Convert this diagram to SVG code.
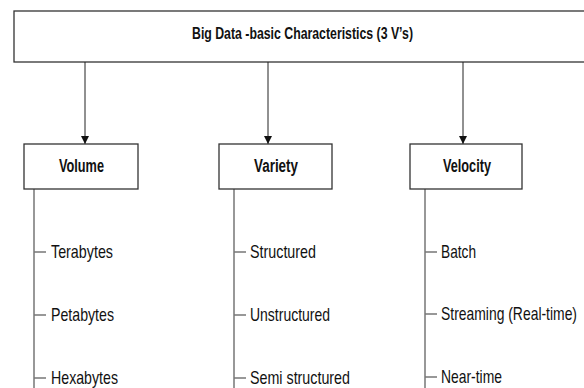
<svg xmlns="http://www.w3.org/2000/svg" width="584" height="388" viewBox="0 0 584 388">
<style>
.box{fill:#fff;stroke:#333;stroke-width:1.3}
.lbl{font-family:"Liberation Sans",Arial,sans-serif;font-weight:bold;font-size:18px;fill:#111}
.ttl{font-size:17px}
.item{font-family:"Liberation Sans",Arial,sans-serif;font-size:19px;fill:#111}
.arrow{stroke:#222;stroke-width:1;fill:none}
.tree{stroke:#777;stroke-width:1.5;fill:none}
</style>
<defs>
<marker id="ah" viewBox="0 0 8 10" refX="8" refY="5" markerWidth="8" markerHeight="10" markerUnits="userSpaceOnUse" orient="auto">
<path d="M0,1 L8,5 L0,9 Z" fill="#111"/>
</marker>
</defs>
<rect width="584" height="388" fill="#fff"/>
<g id="root">
<rect class="box" x="14" y="11" width="590" height="51"/>
<text class="lbl ttl" x="192" y="39" textLength="221" lengthAdjust="spacingAndGlyphs">Big Data -basic Characteristics (3 V’s)</text>
</g>
<g id="connectors">
<line class="arrow" x1="85" y1="62" x2="85" y2="144" marker-end="url(#ah)"/>
<line class="arrow" x1="268" y1="62" x2="268" y2="144" marker-end="url(#ah)"/>
<line class="arrow" x1="463" y1="62" x2="463" y2="144" marker-end="url(#ah)"/>
<path class="tree" d="M34,189 V388 M34,252 H46 M34,315 H46 M34,378 H46"/>
<path class="tree" d="M234,189 V388 M234,252 H246 M234,315 H246 M234,378 H246"/>
<path class="tree" d="M425,189 V388 M425,252 H437 M425,314 H437 M425,377 H437"/>
</g>
<g id="volume">
<rect class="box" x="24" y="144" width="114" height="45"/>
<text class="lbl" x="59" y="172" textLength="45" lengthAdjust="spacingAndGlyphs">Volume</text>
</g>
<g id="variety">
<rect class="box" x="219" y="144" width="113" height="45"/>
<text class="lbl" x="254" y="172" textLength="44" lengthAdjust="spacingAndGlyphs">Variety</text>
</g>
<g id="velocity">
<rect class="box" x="410" y="144" width="112" height="45"/>
<text class="lbl" x="443" y="172" textLength="48" lengthAdjust="spacingAndGlyphs">Velocity</text>
</g>
<g id="volume-items">
<text class="item" x="51" y="258" textLength="62" lengthAdjust="spacingAndGlyphs">Terabytes</text>
<text class="item" x="51" y="321" textLength="63" lengthAdjust="spacingAndGlyphs">Petabytes</text>
<text class="item" x="51" y="384" textLength="67" lengthAdjust="spacingAndGlyphs">Hexabytes</text>
</g>
<g id="variety-items">
<text class="item" x="250" y="258" textLength="66" lengthAdjust="spacingAndGlyphs">Structured</text>
<text class="item" x="250" y="321" textLength="80" lengthAdjust="spacingAndGlyphs">Unstructured</text>
<text class="item" x="250" y="384" textLength="100" lengthAdjust="spacingAndGlyphs">Semi structured</text>
</g>
<g id="velocity-items">
<text class="item" x="441" y="258" textLength="35" lengthAdjust="spacingAndGlyphs">Batch</text>
<text class="item" x="441" y="320" textLength="136" lengthAdjust="spacingAndGlyphs">Streaming (Real-time)</text>
<text class="item" x="441" y="383" textLength="61" lengthAdjust="spacingAndGlyphs">Near-time</text>
</g>
</svg>
